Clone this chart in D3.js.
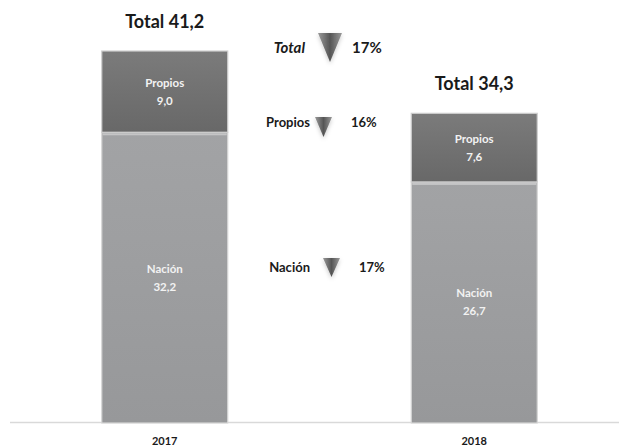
<!DOCTYPE html>
<html><head><meta charset="utf-8">
<script src="https://cdn.jsdelivr.net/npm/d3@7"></script>
<style>html,body{margin:0;padding:0;background:#fff;}svg{display:block;}</style>
</head><body>
<script>
const years = ["2017", "2018"];
const propios = [9.0, 7.6];
const nacion = [32.2, 26.7];
const totals = [41.2, 34.3];
const changeLabels = ["Total", "Propios", "Nación"];
const changePct = ["17%", "16%", "17%"];

const W = 619, H = 447;
const fmt = v => d3.format(".1f")(v).replace(".", ",");
const svg = d3.select("body").append("svg").attr("width", W).attr("height", H);
const FONT = "Lato, 'Open Sans', sans-serif";

const defs = svg.append("defs");
const gP = defs.append("linearGradient").attr("id", "gP").attr("x1", 0).attr("y1", 0).attr("x2", 0).attr("y2", 1);
gP.append("stop").attr("offset", 0).attr("stop-color", "#7b7b7b");
gP.append("stop").attr("offset", 1).attr("stop-color", "#686868");
const gN = defs.append("linearGradient").attr("id", "gN").attr("x1", 0).attr("y1", 0).attr("x2", 0).attr("y2", 1);
gN.append("stop").attr("offset", 0).attr("stop-color", "#a2a3a5");
gN.append("stop").attr("offset", 1).attr("stop-color", "#97989a");
const gT = defs.append("linearGradient").attr("id", "gT").attr("x1", 0).attr("y1", 0).attr("x2", 1).attr("y2", 0);
gT.append("stop").attr("offset", 0).attr("stop-color", "#9a9a9a");
gT.append("stop").attr("offset", 0.5).attr("stop-color", "#555555");
gT.append("stop").attr("offset", 1).attr("stop-color", "#9a9a9a");
const sh = defs.append("filter").attr("id", "sh").attr("x", "-50%").attr("y", "-50%").attr("width", "200%").attr("height", "200%");
sh.append("feDropShadow").attr("dx", 0).attr("dy", 2).attr("stdDeviation", 2).attr("flood-color", "#000").attr("flood-opacity", 0.2);

const x = d3.scaleBand().domain(years).range([15, 624]).paddingInner(0.5929).paddingOuter(0.2803);
const y = d3.scaleLinear().domain([0, 41.2]).range([423, 51]);

// axis line
svg.append("line").attr("x1", 10).attr("x2", 619).attr("y1", y(0) - 0.5).attr("y2", y(0) - 0.5)
  .attr("stroke", "#d9d9d9").attr("stroke-width", 1.5);

const data = years.map((yr, i) => ({ yr, p: propios[i], n: nacion[i], t: totals[i] }));
const g = svg.append("g");
// Nación
g.selectAll("rect.n").data(data).join("rect").attr("class", "n")
  .attr("x", d => x(d.yr)).attr("width", x.bandwidth())
  .attr("y", d => y(d.n)).attr("height", d => y(0) - y(d.n))
  .attr("fill", "url(#gN)").attr("stroke", "#d6d6d6").attr("stroke-width", 1.2);
// highlight at top of Nación
g.selectAll("rect.nh").data(data).join("rect").attr("class", "nh")
  .attr("x", d => x(d.yr) + 1).attr("width", x.bandwidth() - 2)
  .attr("y", d => y(d.n) + 1).attr("height", 2).attr("fill", "#dcdcdc").attr("opacity", 0.6);
// Propios
g.selectAll("rect.p").data(data).join("rect").attr("class", "p")
  .attr("x", d => x(d.yr)).attr("width", x.bandwidth())
  .attr("y", d => y(d.n + d.p)).attr("height", d => y(d.n) - y(d.n + d.p))
  .attr("fill", "url(#gP)").attr("stroke", "#cfcfcf").attr("stroke-width", 1.2);

// inner labels
data.forEach(d => {
  const cx = x(d.yr) + x.bandwidth() / 2;
  const pm = (y(d.n) + y(d.n + d.p)) / 2;
  const nm = (y(0) + y(d.n)) / 2;
  [[pm, "Propios", fmt(d.p)], [nm, "Nación", fmt(d.n)]].forEach(([m, a, b]) => {
    svg.append("text").attr("x", cx).attr("y", m - 5).attr("text-anchor", "middle")
      .attr("font-family", FONT).attr("font-weight", "bold").attr("font-size", 11.5).attr("fill", "#f2f2f2").text(a);
    svg.append("text").attr("x", cx).attr("y", m + 13).attr("text-anchor", "middle")
      .attr("font-family", FONT).attr("font-weight", "bold").attr("font-size", 11.5).attr("fill", "#f2f2f2").text(b);
  });
  svg.append("text").attr("x", cx).attr("y", y(d.t) - 23).attr("text-anchor", "middle")
    .attr("font-family", FONT).attr("font-weight", "bold").attr("font-size", 18).attr("fill", "#1a1a1a")
    .text("Total " + fmt(d.t));
  svg.append("text").attr("x", cx).attr("y", 445).attr("text-anchor", "middle")
    .attr("font-family", FONT).attr("font-weight", "bold").attr("font-size", 11).attr("fill", "#1a1a1a").text(d.yr);
});

// change annotations
const ann = [
  { lx: 305, ly: 53, fs: 15, italic: true, tx: 330, ty: 33, tw: 24, th: 29, px: 352, pfs: 15 },
  { lx: 310, ly: 127, fs: 13, italic: false, tx: 323.5, ty: 117, tw: 17, th: 20, px: 351, pfs: 13 },
  { lx: 310, ly: 272, fs: 13, italic: false, tx: 331.5, ty: 258, tw: 17, th: 19, px: 359, pfs: 13 }
];
ann.forEach((a, i) => {
  svg.append("text").attr("x", a.lx).attr("y", a.ly).attr("text-anchor", "end")
    .attr("font-family", FONT).attr("font-weight", "bold").attr("font-style", a.italic ? "italic" : "normal")
    .attr("font-size", a.fs).attr("fill", "#1a1a1a").text(changeLabels[i]);
  svg.append("path").attr("d", `M${a.tx - a.tw / 2},${a.ty} L${a.tx + a.tw / 2},${a.ty} L${a.tx},${a.ty + a.th} Z`)
    .attr("fill", "url(#gT)").attr("filter", "url(#sh)");
  svg.append("text").attr("x", a.px).attr("y", a.ly).attr("text-anchor", "start")
    .attr("font-family", FONT).attr("font-weight", "bold").attr("font-size", a.pfs).attr("fill", "#1a1a1a").text(changePct[i]);
});
</script>
</body></html>
